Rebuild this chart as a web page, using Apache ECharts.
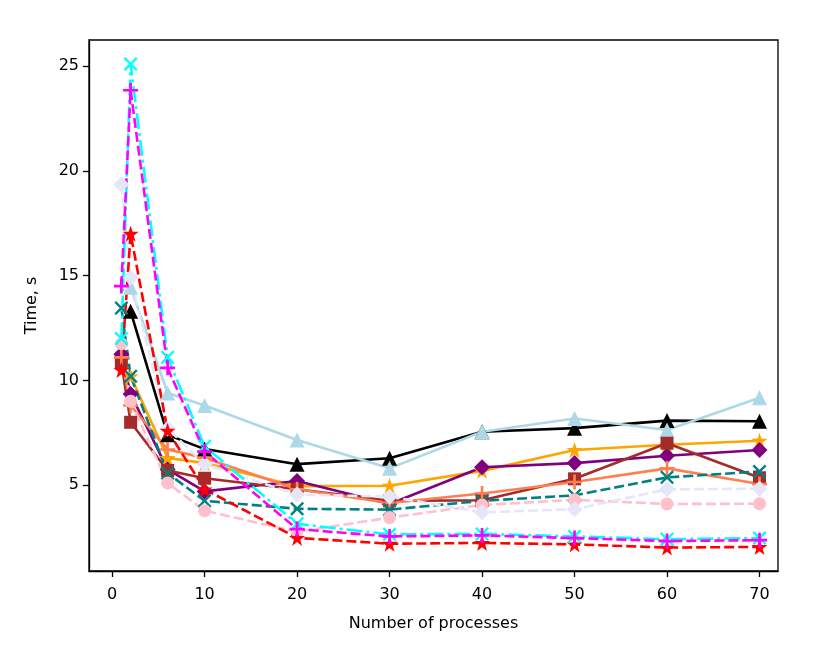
<!DOCTYPE html>
<html>
<head>
<meta charset="utf-8">
<script src="https://cdn.jsdelivr.net/npm/echarts@6/dist/echarts.min.js"></script>
<style>
  html, body { margin: 0; padding: 0; background: #fff; }
  #chart { width: 830px; height: 667px; }
</style>
</head>
<body>
<div id="chart"></div>
<script>
// x positions (number of processes)
var procs = [1, 2, 6, 10, 20, 30, 40, 50, 60, 70];

// timings per configuration
var blackVals    = [null, 13.3, 7.4, 6.72, 6.0, 6.28, 7.55, 7.72, 8.08, 8.05];
var lightblueVals= [null, 14.45, 9.4, 8.8, 7.15, 5.8, 7.55, 8.18, 7.63, 9.17];
var orangeVals   = [null, 10.2, 6.3, 6.05, 4.95, 4.97, 5.68, 6.68, 6.93, 7.12];
var purpleVals   = [11.25, 9.35, 5.75, 4.7, 5.2, 4.1, 5.85, 6.05, 6.4, 6.68];
var brownVals    = [10.85, 8.0, 5.7, 5.33, 4.8, 4.25, 4.28, 5.3, 7.0, 5.35];
var coralVals    = [11.1, 8.8, 6.7, 6.3, 4.8, 4.15, 4.6, 5.15, 5.8, 5.05];
var tealVals     = [13.45, 10.2, 5.57, 4.25, 3.87, 3.83, 4.25, 4.51, 5.37, 5.65];
var pinkVals     = [11.75, 9.0, 5.1, 3.78, 2.77, 3.45, 4.05, 4.3, 4.1, 4.11];
var lavenderVals = [19.35, 14.9, 7.7, 6.0, 4.55, 4.45, 3.7, 3.85, 4.8, 4.83];
var redVals      = [10.5, 17.0, 7.6, 4.8, 2.48, 2.2, 2.24, 2.17, 2.02, 2.05];
var cyanVals     = [12.0, 25.1, 11.1, 6.85, 3.15, 2.65, 2.67, 2.55, 2.42, 2.47];
var magentaVals  = [14.5, 23.85, 10.6, 6.6, 2.9, 2.55, 2.6, 2.47, 2.33, 2.37];

var xTicks = [0, 10, 20, 30, 40, 50, 60, 70];
var yTicks = [5, 10, 15, 20, 25];

// marker shapes
var STAR = 'path://M50,0L61.8,34.5L97.6,34.5L68.8,55.9L79.4,90.5L50,69.1L20.6,90.5L31.2,55.9L2.4,34.5L38.2,34.5Z';
var PLUS = 'path://M4.1,0H5.9V4.1H10V5.9H5.9V10H4.1V5.9H0V4.1H4.1Z';
var CROSS = 'path://M1.2,0L5,3.8L8.8,0L10,1.2L6.2,5L10,8.8L8.8,10L5,6.2L1.2,10L0,8.8L3.8,5L0,1.2Z';
var DASH = [10, 4];
var DASHDOT = [16, 4, 3, 4];

function pairs(vals) {
    return procs.map(function (p, i) { return [p, vals[i]]; });
}

function line(vals, color, symbol, size, dash) {
    return {
        type: 'line',
        data: pairs(vals),
        symbol: symbol,
        symbolSize: size,
        showAllSymbol: true,
        connectNulls: false,
        animation: false,
        lineStyle: { color: color, width: 2.6, type: dash || 'solid' },
        itemStyle: { color: color, borderWidth: 0 },
        emphasis: { disabled: true }
    };
}

var chart = echarts.init(document.getElementById('chart'));

chart.setOption({
    backgroundColor: '#fff',
    textStyle: { fontFamily: 'DejaVu Sans' },
    grid: {
        left: 89, top: 40, right: 52, bottom: 96,
        show: true, borderColor: '#000', borderWidth: 1.3, backgroundColor: 'transparent'
    },
    xAxis: {
        type: 'value',
        min: -2.5, max: 72,
        name: 'Number of processes',
        nameLocation: 'middle',
        nameGap: 45,
        nameTextStyle: { fontSize: 16, color: '#000', fontFamily: 'DejaVu Sans' },
        axisLine: { show: true, onZero: false, lineStyle: { color: '#000', width: 1.3 } },
        axisTick: { show: true, length: 6, lineStyle: { color: '#000', width: 1.3 }, customValues: xTicks },
        axisLabel: { fontSize: 16, color: '#000', margin: 16, customValues: xTicks },
        splitLine: { show: false }
    },
    yAxis: {
        type: 'value',
        min: 0.9, max: 26.25,
        name: 'Time, s',
        nameLocation: 'middle',
        nameGap: 49,
        nameTextStyle: { fontSize: 16, color: '#000', fontFamily: 'DejaVu Sans' },
        axisLine: { show: true, onZero: false, lineStyle: { color: '#000', width: 1.3 } },
        axisTick: { show: true, length: 6, lineStyle: { color: '#000', width: 1.3 }, customValues: yTicks },
        axisLabel: { fontSize: 16, color: '#000', margin: 10, customValues: yTicks },
        splitLine: { show: false }
    },
    series: [
        line(blackVals, '#000000', 'triangle', 15),
        line(lightblueVals, '#add8e6', 'triangle', 15),
        line(orangeVals, '#ffa500', STAR, 16),
        line(purpleVals, '#800080', 'diamond', 16),
        line(brownVals, '#a52a2a', 'rect', 13),
        line(coralVals, '#ff7f50', PLUS, 15),
        line(tealVals, '#008080', CROSS, 14, DASH),
        line(pinkVals, '#ffc0cb', 'circle', 13, DASH),
        line(lavenderVals, '#e6e6fa', 'diamond', 16, DASH),
        line(redVals, '#ff0000', STAR, 16, DASH),
        line(cyanVals, '#00ffff', CROSS, 14, DASHDOT),
        line(magentaVals, '#ff00ff', PLUS, 15, DASH)
    ]
});
</script>
</body>
</html>
